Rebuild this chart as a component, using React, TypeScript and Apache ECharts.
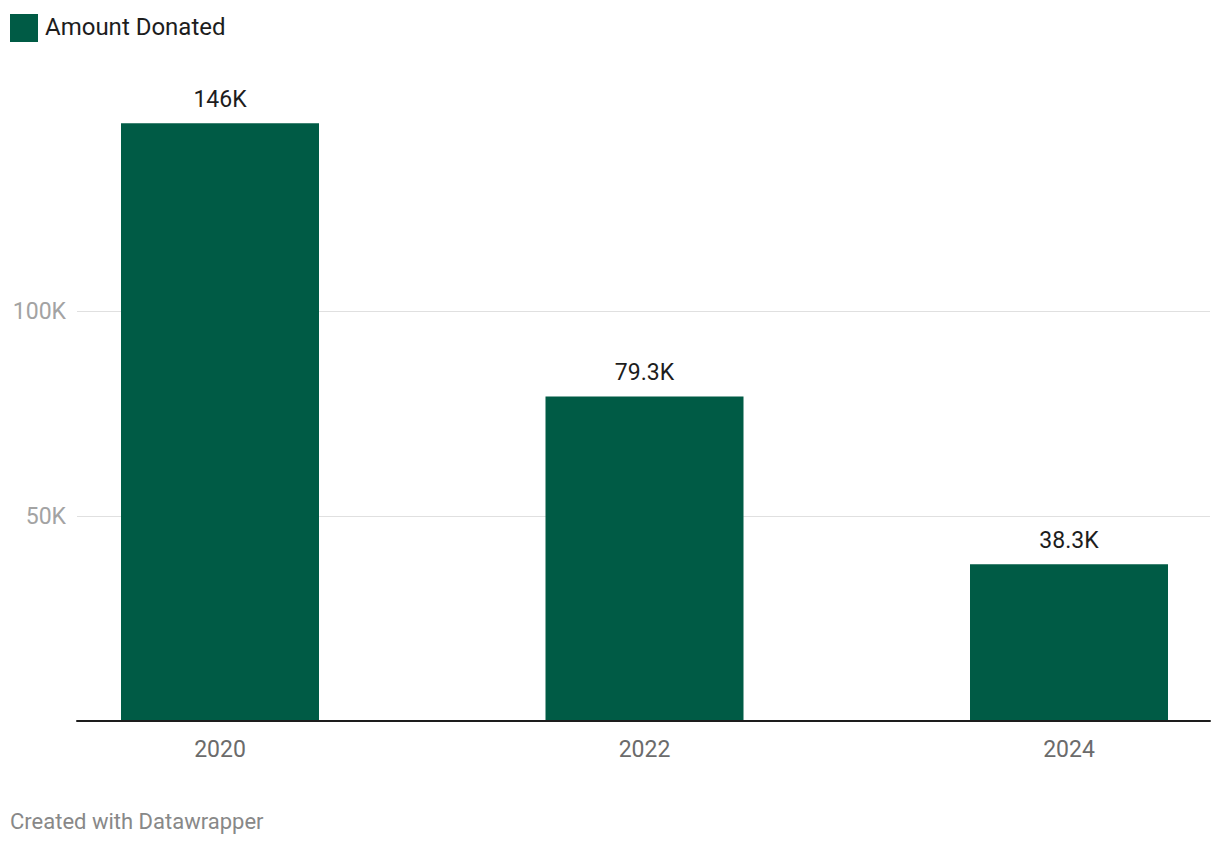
import React, { useEffect, useRef } from "react";
import * as echarts from "echarts";

const categories = ["2020", "2022", "2024"];
const amountDonated = [146000, 79300, 38300];
const barLabels = ["146K", "79.3K", "38.3K"];
const gridValues = [50000, 100000];
const yTickLabels: Record<number, string> = { 50000: "50K", 100000: "100K" };

const FONT = "Roboto, 'Noto Sans', sans-serif";
const GREEN = "#005b45";

export default function App() {
  const ref = useRef<HTMLDivElement>(null);
  useEffect(() => {
    if (!ref.current) return;
    const chart = echarts.init(ref.current, undefined, { renderer: "svg" });
    const top = 107;
    const bottom = 125;
    chart.setOption({
      animation: false,
      textStyle: { fontFamily: FONT },
      grid: [
        { left: 77, right: 10, top, bottom },
        { left: 220, right: 151, top, bottom },
      ],
      xAxis: [
        {
          type: "value",
          gridIndex: 0,
          min: 0,
          max: 1,
          z: 10,
          axisLine: { show: true, lineStyle: { color: "#1d1d1d", width: 2 } },
          axisTick: { show: false },
          axisLabel: { show: false },
          splitLine: { show: false },
        },
        {
          type: "category",
          gridIndex: 1,
          data: categories,
          boundaryGap: false,
          axisLine: { show: false },
          axisTick: { show: false },
          axisLabel: {
            color: "#6b6b6b",
            fontSize: 23,
            fontFamily: FONT,
            margin: 17,
          },
        },
      ],
      yAxis: [
        {
          type: "value",
          gridIndex: 0,
          min: 0,
          max: 150000,
          interval: 50000,
          axisLine: { show: false },
          axisTick: { show: false },
          splitLine: { show: false },
          axisLabel: {
            color: "#a3a3a3",
            fontSize: 23,
            fontFamily: FONT,
            margin: 11,
            formatter: (v: number) => yTickLabels[v] ?? "",
          },
        },
        {
          type: "value",
          gridIndex: 1,
          min: 0,
          max: 150000,
          show: false,
        },
      ],
      series: [
        {
          type: "line",
          xAxisIndex: 0,
          yAxisIndex: 0,
          data: [],
          silent: true,
          z: 0,
          markLine: {
            silent: true,
            symbol: "none",
            z: 0,
            label: { show: false },
            lineStyle: { color: "#e0e0e0", type: "solid", width: 1 },
            data: gridValues.map((v) => ({ yAxis: v })),
          },
        },
        {
          type: "bar",
          name: "Amount Donated",
          xAxisIndex: 1,
          yAxisIndex: 1,
          barWidth: 198,
          z: 5,
          data: amountDonated,
          itemStyle: { color: GREEN },
          label: {
            show: true,
            position: "top",
            distance: 12,
            color: "#1d1d1d",
            fontSize: 23,
            fontFamily: FONT,
            formatter: (p: any) => barLabels[p.dataIndex],
          },
        },
      ],
      graphic: [
        {
          type: "rect",
          left: 10,
          top: 14,
          shape: { width: 28, height: 28 },
          style: { fill: GREEN },
        },
        {
          type: "text",
          left: 45,
          top: 15,
          style: {
            text: "Amount Donated",
            fill: "#1d1d1d",
            font: `24px ${FONT}`,
          },
        },
        {
          type: "text",
          left: 10,
          top: 810,
          style: {
            text: "Created with Datawrapper",
            fill: "#888888",
            font: `22px ${FONT}`,
          },
        },
      ],
    });
    return () => chart.dispose();
  }, []);
  return (
    <div
      ref={ref}
      style={{ position: "absolute", left: 0, top: 0, width: 1220, height: 846 }}
    />
  );
}
